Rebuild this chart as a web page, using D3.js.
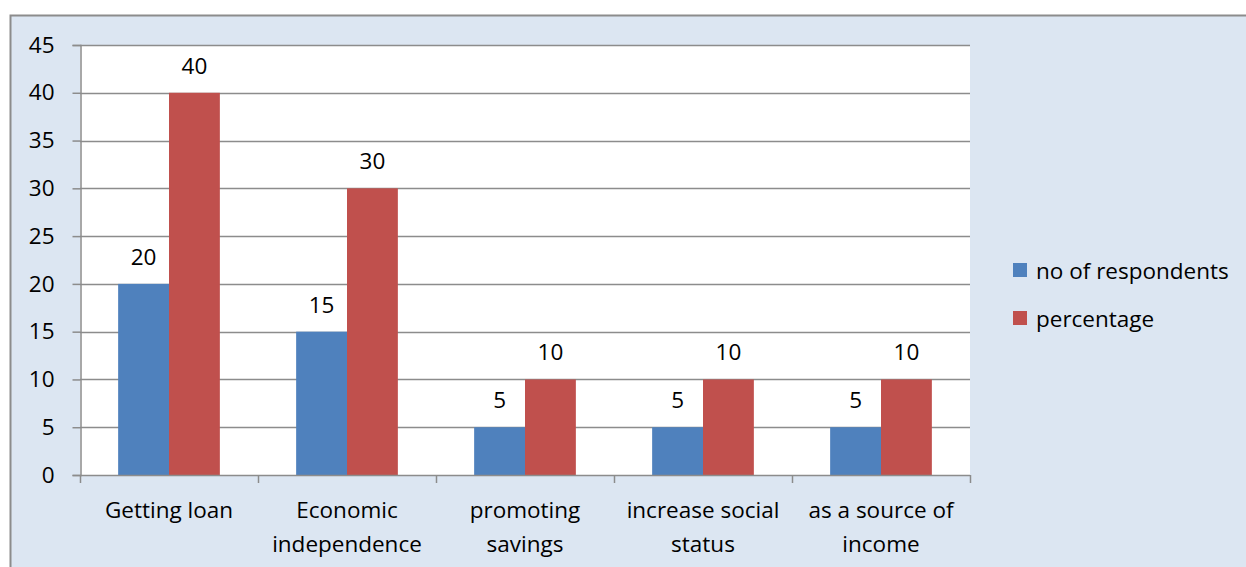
<!DOCTYPE html>
<html>
<head>
<meta charset="utf-8">
<script src="https://cdn.jsdelivr.net/npm/d3@7"></script>
<style>
  html, body { margin: 0; padding: 0; background: #ffffff; }
  svg { display: block; font-family: "Open Sans", "Noto Sans", sans-serif; }
</style>
</head>
<body>
<svg id="chart" width="1246" height="567"></svg>
<script>
// Reasons for joining, by respondents and percentage
const categories = [
  ["Getting loan"],
  ["Economic", "independence"],
  ["promoting", "savings"],
  ["increase social", "status"],
  ["as a source of", "income"]
];
const respondents = [20, 15, 5, 5, 5];
const percentage = [40, 30, 10, 10, 10];
const seriesNames = ["no of respondents", "percentage"];
const seriesColors = ["#4f81bd", "#c0504d"];
const yTicks = [0, 5, 10, 15, 20, 25, 30, 35, 40, 45];

const FONT = 22.5;
const svg = d3.select("#chart");

// Chart area background
svg.append("rect")
  .attr("x", 10.5).attr("y", 15.5)
  .attr("width", 1250).attr("height", 560)
  .attr("fill", "#dce6f2")
  .attr("stroke", "#8c8c8c").attr("stroke-width", 2);

const plot = { left: 80, right: 970, top: 45, bottom: 475 };

const x0 = d3.scaleBand()
  .domain(d3.range(categories.length))
  .range([plot.left, plot.right])
  .paddingInner(0).paddingOuter(0);

const x1 = d3.scaleBand()
  .domain([0, 1])
  .range([0, x0.bandwidth()])
  .paddingInner(0)
  .paddingOuter(0.75);

const y = d3.scaleLinear().domain([0, 45]).range([plot.bottom, plot.top]);

// Plot area
svg.append("rect")
  .attr("x", plot.left).attr("y", plot.top)
  .attr("width", plot.right - plot.left).attr("height", plot.bottom - plot.top)
  .attr("fill", "#ffffff");

// Horizontal gridlines
svg.append("g").selectAll("line")
  .data(yTicks.filter(t => t > 0))
  .join("line")
  .attr("x1", plot.left).attr("x2", plot.right)
  .attr("y1", d => Math.round(y(d)) + 0.5).attr("y2", d => Math.round(y(d)) + 0.5)
  .attr("stroke", "#8c8c8c").attr("stroke-width", 1.5);

// Bars
const series = [respondents, percentage];
const groups = svg.append("g").selectAll("g")
  .data(categories.map((c, i) => i))
  .join("g")
  .attr("transform", i => `translate(${x0(i)},0)`);

groups.selectAll("rect")
  .data(i => series.map((s, k) => ({ k, v: s[i] })))
  .join("rect")
  .attr("x", d => x1(d.k))
  .attr("width", x1.bandwidth())
  .attr("y", d => y(d.v))
  .attr("height", d => y(0) - y(d.v))
  .attr("fill", d => seriesColors[d.k]);

// Value labels
groups.selectAll("text")
  .data(i => series.map((s, k) => ({ k, v: s[i] })))
  .join("text")
  .attr("x", d => x1(d.k) + x1.bandwidth() / 2)
  .attr("y", d => y(d.v) - 19)
  .attr("text-anchor", "middle")
  .attr("font-size", FONT)
  .attr("fill", "#000")
  .text(d => d.v);

// Y axis
const yAxis = d3.axisLeft(y).tickValues(yTicks).tickSize(8).tickPadding(18);
const gy = svg.append("g")
  .attr("transform", `translate(${plot.left + 0.5},0)`)
  .call(yAxis);
gy.selectAll("path, line").attr("stroke", "#8c8c8c").attr("stroke-width", 1.5);
gy.selectAll("text").attr("font-size", FONT).attr("fill", "#000")
  .attr("font-family", "'Open Sans', 'Noto Sans', sans-serif");

// X axis baseline and category boundary ticks
const xAxisG = svg.append("g");
xAxisG.append("line")
  .attr("x1", plot.left).attr("x2", plot.right)
  .attr("y1", plot.bottom + 0.5).attr("y2", plot.bottom + 0.5)
  .attr("stroke", "#8c8c8c").attr("stroke-width", 1.5);
const bounds = d3.range(categories.length + 1).map(i => plot.left + i * x0.bandwidth());
xAxisG.selectAll("line.tick")
  .data(bounds)
  .join("line")
  .attr("class", "tick")
  .attr("x1", d => Math.round(d) + 0.5).attr("x2", d => Math.round(d) + 0.5)
  .attr("y1", plot.bottom).attr("y2", plot.bottom + 8)
  .attr("stroke", "#8c8c8c").attr("stroke-width", 1.5);

// Category labels
const catLabels = svg.append("g").selectAll("text")
  .data(categories)
  .join("text")
  .attr("text-anchor", "middle")
  .attr("font-size", FONT)
  .attr("fill", "#000");
catLabels.each(function(lines, i) {
  const t = d3.select(this);
  lines.forEach((ln, j) => {
    t.append("tspan")
      .attr("x", x0(i) + x0.bandwidth() / 2)
      .attr("y", 518 + j * 34)
      .text(ln);
  });
});

// Legend
const legend = svg.append("g").attr("transform", "translate(1013,263)");
const items = legend.selectAll("g")
  .data(seriesNames)
  .join("g")
  .attr("transform", (d, i) => `translate(0,${i * 48})`);
items.append("rect")
  .attr("width", 14).attr("height", 14)
  .attr("fill", (d, i) => seriesColors[i]);
items.append("text")
  .attr("x", 23).attr("y", 16)
  .attr("font-size", FONT)
  .attr("fill", "#000")
  .text(d => d);
</script>
</body>
</html>
